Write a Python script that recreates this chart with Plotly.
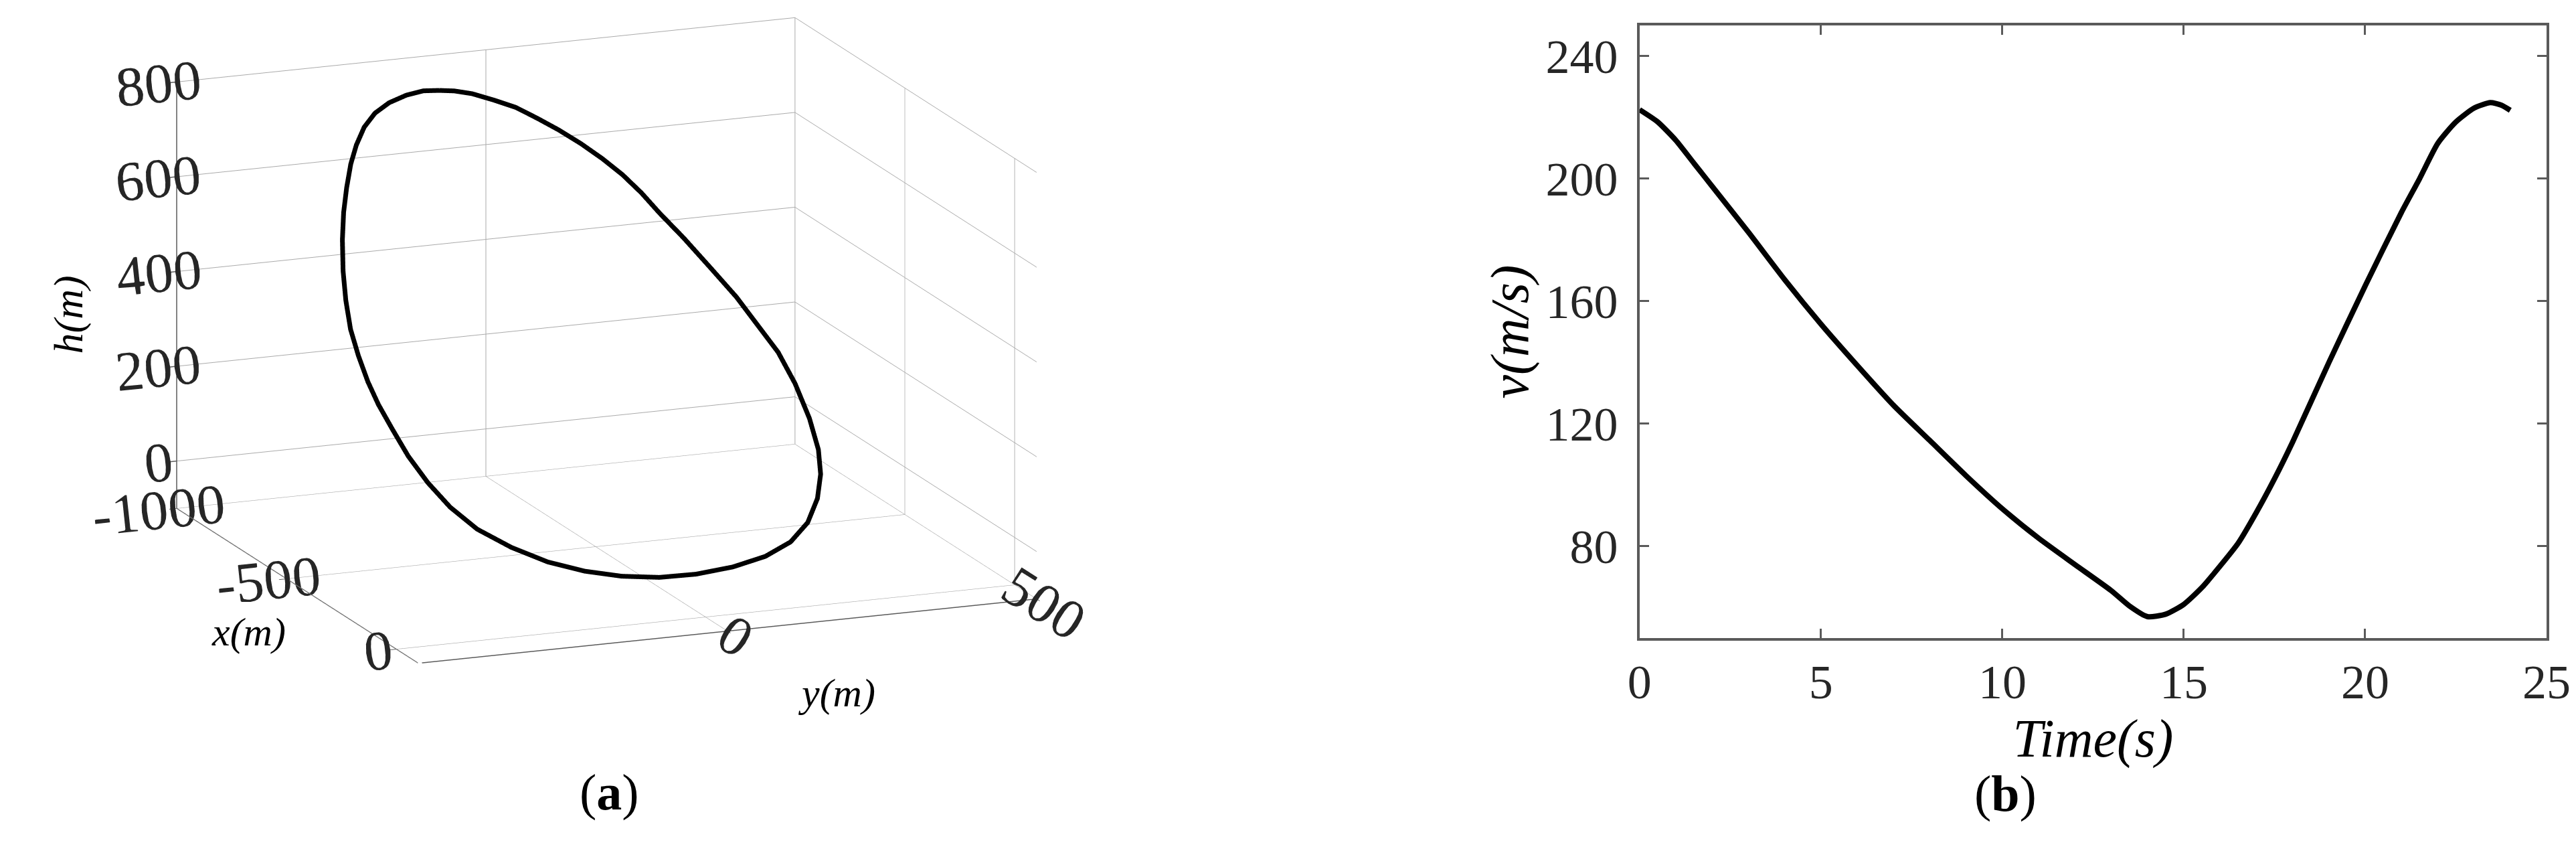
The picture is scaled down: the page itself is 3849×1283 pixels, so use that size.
import plotly.graph_objects as go

# ---- panel (a): closed loop flight path (metres) ----
path_x = [-900, -899, -894, -884, -872, -854, -835, -812, -788, -761, -732, -698,
          -657, -606, -560, -515, -469, -417, -360, -308, -267, -228, -188, -156,
          -133, -115, -103, -98, -100, -108, -124, -147, -178, -214, -254, -298,
          -342, -383, -420, -463, -507, -554, -603, -654, -699, -739, -779, -810,
          -839, -863, -880, -892, -899, -900]
path_y = [-111, -87, -60, -28, 3, 32, 59, 87, 113, 136, 156, 174,
          198, 225, 249, 266, 284, 293, 296, 292, 281, 262, 232, 193,
          144, 85, 21, -40, -100, -157, -211, -262, -306, -337, -359, -375,
          -385, -393, -397, -397, -394, -385, -372, -355, -337, -318, -297, -277,
          -254, -228, -199, -167, -137, -111]
path_h = [759, 755, 747, 732, 716, 694, 672, 646, 618, 589, 557, 521,
          478, 424, 375, 329, 281, 229, 172, 122, 84, 47, 12, -14,
          -31, -40, -43, -40, -30, -14, 8, 39, 74, 114, 157, 202,
          247, 288, 326, 368, 410, 456, 502, 550, 592, 629, 665, 693,
          719, 738, 751, 759, 762, 759]

x_ticks = [-1000, -500, 0]
y_ticks = [-500, 0, 500]
h_ticks = [0, 200, 400, 600, 800]

# ---- panel (b): speed history ----
time_s = [0, 0.5, 1, 1.5, 2, 3, 4, 5, 6, 7, 8, 9, 10, 11, 12, 13, 13.5, 14,
          14.5, 15, 15.5, 16, 16.5, 17, 17.5, 18, 19, 20, 21, 21.5, 22, 22.5,
          23, 23.45, 23.75, 24]
speed = [222.5, 218.5, 212.5, 205, 197.5, 182.5, 167, 152.5, 139, 126, 114.5,
         103, 92.2, 82.6, 74, 65.5, 60.5, 57, 57.8, 61, 66.5, 73.5, 81, 91,
         102, 114, 140, 165, 189, 200, 211.5, 218.5, 223, 224.8, 224, 222.3]

t_ticks = [0, 5, 10, 15, 20, 25]
v_ticks = [80, 120, 160, 200, 240]

SERIF = "Liberation Serif"
AXIS_GREY = "#5a5a5a"
TEXT_GREY = "#262626"
EYE = 1.06    # orthographic camera distance
BOX = 1.99    # overall box scale inside the scene

fig = go.Figure()

fig.add_trace(go.Scatter3d(
    x=path_x, y=path_y, z=path_h,
    mode="lines",
    line=dict(color="black", width=14),
    hoverinfo="skip",
    showlegend=False,
))

fig.add_trace(go.Scatter(
    x=time_s, y=speed,
    mode="lines",
    line=dict(color="black", width=8, shape="spline", smoothing=0.6),
    hoverinfo="skip",
    showlegend=False,
))


def axis3d(rng, tickvals):
    # gl3d text size does not follow the page pixels in orthographic mode;
    # axis titles are placed as paper annotations instead
    return dict(
        title=dict(text=""),
        range=rng,
        tickvals=tickvals,
        ticktext=[str(v) for v in tickvals],   # plain hyphen, as in MATLAB
        tickfont=dict(family=SERIF, size=32, color=TEXT_GREY),
        showgrid=True, gridcolor="#aaaaaa", gridwidth=2,
        showline=True, linecolor=AXIS_GREY, linewidth=3,
        ticks="outside", ticklen=12, tickwidth=3, tickcolor=AXIS_GREY,
        showbackground=False, zeroline=False, showspikes=False,
    )


def label(text, px, py, size, angle=0, bold=False):
    return dict(text=text, x=px / 3849, y=1 - py / 1283,
                xref="paper", yref="paper", showarrow=False, textangle=angle,
                font=dict(family=SERIF, size=size, color="black",
                          style="normal" if bold else "italic"))


fig.update_layout(
    width=3849, height=1283,
    margin=dict(l=0, r=0, t=0, b=0),
    paper_bgcolor="white", plot_bgcolor="white",
    showlegend=False,
    scene=dict(
        domain=dict(x=[0.0, 0.467], y=[0.22, 1.0]),
        xaxis=axis3d([-1000, 100], x_ticks),
        yaxis=axis3d([-500, 500], y_ticks),
        zaxis=axis3d([-100, 800], h_ticks),
        aspectmode="manual",
        aspectratio=dict(x=0.97 * BOX, y=1.0 * BOX, z=0.662 * BOX),
        camera=dict(
            eye=dict(x=0.896 * EYE, y=-0.361 * EYE, z=0.258 * EYE),
            up=dict(x=0, y=0, z=1),
            center=dict(x=0, y=0, z=0),
            projection=dict(type="orthographic"),
        ),
        bgcolor="white",
    ),
    xaxis=dict(
        domain=[0.6344, 0.9865], range=[0, 25], tickvals=t_ticks,
        ticks="inside", ticklen=14, tickwidth=3, tickcolor=AXIS_GREY,
        showline=True, linecolor=AXIS_GREY, linewidth=4, mirror="ticks",
        showgrid=False, zeroline=False, automargin=False,
        tickfont=dict(family=SERIF, size=72, color=TEXT_GREY),
        ticklabelstandoff=0,
        title=dict(text="Time(s)", standoff=0,
                   font=dict(family=SERIF, size=80, style="italic", color="black")),
    ),
    yaxis=dict(
        domain=[0.2634, 0.9766], range=[50, 250], tickvals=v_ticks,
        ticks="inside", ticklen=14, tickwidth=3, tickcolor=AXIS_GREY,
        showline=True, linecolor=AXIS_GREY, linewidth=4, mirror="ticks",
        showgrid=False, zeroline=False, automargin=False,
        tickfont=dict(family=SERIF, size=72, color=TEXT_GREY),
        ticklabelstandoff=14,
        title=dict(text="v(m/s)", standoff=0,
                   font=dict(family=SERIF, size=80, style="italic", color="black")),
    ),
    annotations=[
        label("h(m)", 57, 462, 62, angle=-90),
        label("x(m)", 306, 971, 60),
        label("y(m)", 1182, 1062, 60),
        label("(<b>a</b>)", 856, 1220, 76, bold=True),
        label("(<b>b</b>)", 3037, 1222, 76, bold=True),
    ],
)

fig.write_html("out.html")
